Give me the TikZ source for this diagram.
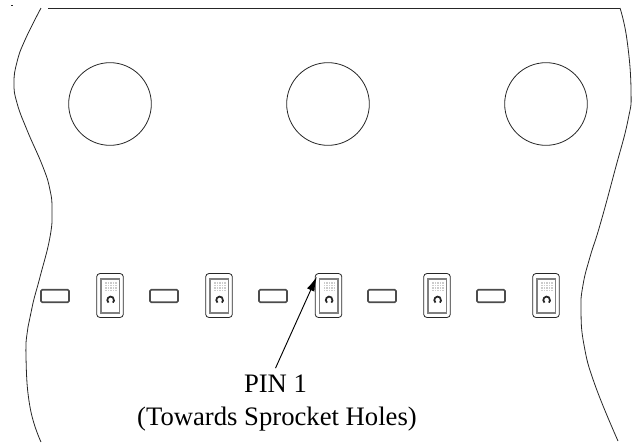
\documentclass[tikz,border=0pt]{standalone}
\usepackage{fontspec}
\setmainfont{Liberation Serif}
\usetikzlibrary{calc,positioning,arrows.meta}
\tikzset{
  edge/.style={line width=0.6pt, black!85},
  padbox/.style={draw=black!70, line width=1.3pt, rounded corners=1pt, inner sep=0pt, minimum width=21pt, minimum height=9.5pt},
  pkgbox/.style={draw=black!85, line width=0.6pt, rounded corners=2.5pt, inner sep=0pt, minimum width=20pt, minimum height=33pt},
  holebox/.style={draw=black!85, line width=0.6pt, circle, inner sep=0pt, minimum size=62pt},
  pointer/.style={-{Latex[length=11pt,width=6pt]}, line width=0.7pt},
  caption/.style={inner sep=4.5pt, anchor=base, font=\fontsize{20}{24}\selectfont}
}
\begin{document}
\begin{tikzpicture}[x=0.75pt, y=-0.75pt]
  \useasboundingbox (0,0) rectangle (638,443);
  % carrier tape outline
  \draw[edge] (48,8) -- (620,8);
  \draw[edge] (11,5) -- (13,5);
  \draw[edge] plot[smooth, tension=0.8] coordinates {(41,8) (25,40) (17,62) (14,83) (17,103) (27,130) (43,167) (50,190) (52,210) (50,237) (40,277) (33,303) (28,327) (26,357) (30,407) (41,442)};
  \draw[edge] plot[smooth, tension=0.8] coordinates {(620,8) (627,40) (631,90) (628,120) (615,170) (600,225) (590,257) (583,285) (581,310) (584,345) (595,385) (618,441)};
  % sprocket holes
  \node[holebox] (hole1) at (110,104) {};
  \node[holebox] (hole2) at (328,104) {};
  \node[holebox] (hole3) at (546,104) {};
  % pads and packages
  \foreach \i/\x in {1/55,2/164,3/273,4/382,5/491}
    \node[padbox] (pad\i) at (\x,296) {};
  \foreach \i/\x in {1/110,2/219,3/328.5,4/437,5/546} {
    \node[pkgbox] (pkg\i) at (\x,295.5) {};
    \draw[black!50, line width=1.3pt] (\x-9,279) rectangle (\x+9.5,313);
    \foreach \gx in {-4,-1.5,1,3.5,6}
      \foreach \gy in {283,285.5,288,290.5}
        \fill[black!20] (\x+\gx-0.8,\gy-0.8) rectangle (\x+\gx+0.8,\gy+0.8);
    \draw[black!85, line width=1.3pt] (\x-1.5,302.6) arc (130:410:3.4);
  }
  % label and pointer
  \node[caption] (pinlabel) at (275.5,392) {PIN 1};
  \node[caption] (pinnote) at (277,425) {(Towards Sprocket Holes)};
  \coordinate (pintip) at ($(pkg3.north west)+(2,3.5)$);
  \draw[pointer] (pinlabel.north) -- (pintip);
\end{tikzpicture}
\end{document}
